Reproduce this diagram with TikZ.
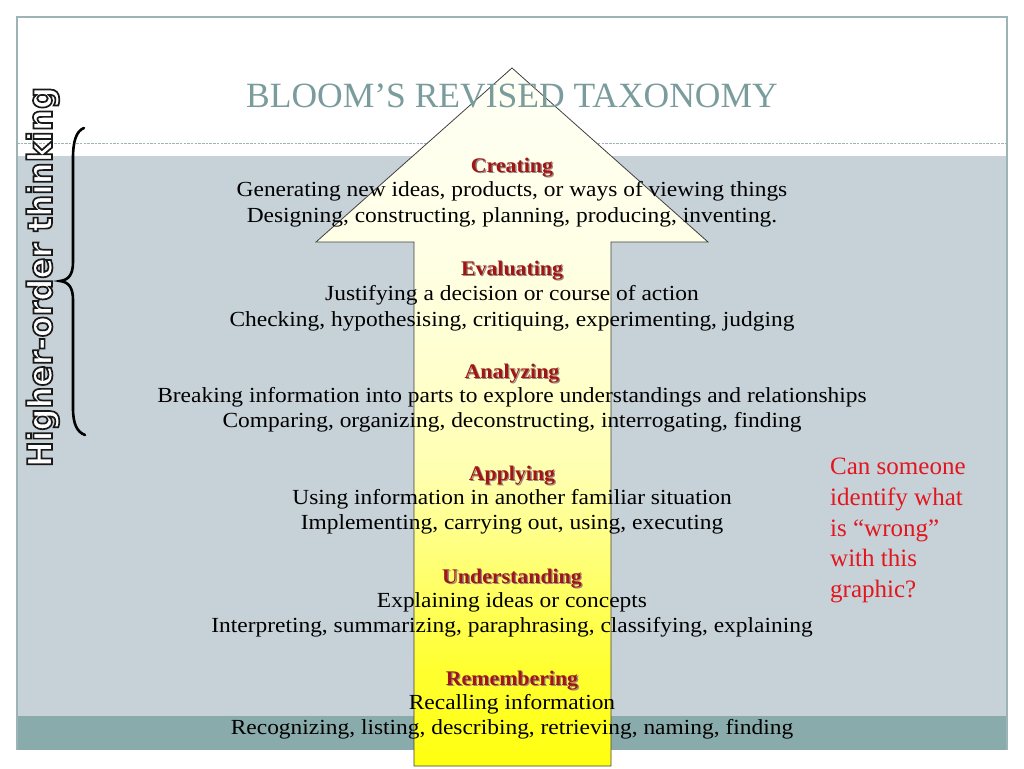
\documentclass[tikz,border=0pt]{standalone}
\usepackage{fontspec}
\setmainfont{Liberation Serif}
\newfontfamily\bodyfont[FakeStretch=1.09]{Liberation Serif}
\newfontfamily\headfont[FakeStretch=1.05]{Liberation Serif}
\newfontfamily\vfont[FakeStretch=0.91]{DejaVu Sans}
\definecolor{bandc}{HTML}{C6D1D8}
\definecolor{tealc}{HTML}{8AABAB}
\definecolor{framec}{HTML}{9EB4B4}
\definecolor{titlec}{HTML}{7A9C9C}
\definecolor{hred}{HTML}{A01616}
\definecolor{hshadow}{HTML}{9A8A80}
\definecolor{qred}{HTML}{E3161E}
\definecolor{ay0}{HTML}{FFFF10}
\definecolor{ay1}{HTML}{FFFF30}
\definecolor{ay2}{HTML}{FFFF70}
\definecolor{ay3}{HTML}{FFFFB0}
\definecolor{ay4}{HTML}{FFFFCC}
\definecolor{ay5}{HTML}{FFFFE4}
\definecolor{ay6}{HTML}{FFFFF6}
\pgfdeclareverticalshading{arrowshade}{100bp}{color(0bp)=(ay0); color(25bp)=(ay0); color(32bp)=(ay1); color(39bp)=(ay2); color(46bp)=(ay3); color(53bp)=(ay4); color(61bp)=(ay5); color(75bp)=(ay6); color(100bp)=(ay6)}
\newcommand\outltext[1]{{\color{white}\special{pdf:literal direct 2 Tr 1.7 w 0.1 0.1 0.1 RG}#1\special{pdf:literal direct 0 Tr}}}
\newcommand\hd[3]{\node[head, text=hshadow] (#1s) at (513.3,#2+1.3) {#3};\node[head] (#1) at (512,#2) {#3};}
\begin{document}
\begin{tikzpicture}[x=1pt,y=-1pt,
  body/.style={font=\bodyfont\fontsize{21.5}{24}\selectfont, anchor=base, inner sep=0pt, text=black},
  head/.style={font=\headfont\bfseries\fontsize{20.8}{22}\selectfont, anchor=base, inner sep=0pt, text=hred}]
\useasboundingbox (0,0) rectangle (1024,768);
\fill[white] (0,0) rectangle (1024,768);
\fill[bandc] (17,156) rectangle (1007,716);
\fill[tealc] (17,716) rectangle (1007,750);
\draw[framec, line width=1.2] (17,750) -- (17,17) -- (1007,17) -- (1007,750);
\draw[framec, line width=0.9, dash pattern=on 2.5pt off 1.2pt] (17,143) -- (1007,143);
% arrow
\shadedraw[shading=arrowshade, draw=black!75, line width=0.8]
  (512,68) -- (708,242) -- (611,242) -- (611,766) -- (414,766) -- (414,242) -- (316,242) -- cycle;
% title
\node[font=\fontsize{35.5}{40}\selectfont, text=titlec, anchor=base, inner sep=0pt] (title) at (512,107) {BLOOM’S REVISED TAXONOMY};
% brace
\draw[line width=2.6, line cap=round] (84,128) .. controls (76,131) and (73,142) .. (73,158) -- (73,262)
  .. controls (73,274) and (69,280) .. (60,281) .. controls (69,282) and (73,288) .. (73,300) -- (73,408)
  .. controls (73,424) and (77,432) .. (85,435);
% vertical label
\node[rotate=90, anchor=base, inner sep=0pt, font=\vfont\bfseries\fontsize{34}{34}\selectfont] (hot) at (52,277) {\outltext{Higher-order thinking}};
% levels
\hd{cre}{172}{Creating}
\node[body] (gen) at (512,196) {Generating new ideas, products, or ways of viewing things};
\node[body] (des) at (512,222) {Designing, constructing, planning, producing, inventing.};
\hd{eva}{275}{Evaluating}
\node[body] (jus) at (512,300) {Justifying a decision or course of action};
\node[body] (chk) at (512,326) {Checking, hypothesising, critiquing, experimenting, judging};
\hd{ana}{378}{Analyzing}
\node[body] (brk) at (512,402) {Breaking information into parts to explore understandings and relationships};
\node[body] (cmp) at (512,427) {Comparing, organizing, deconstructing, interrogating, finding};
\hd{app}{480}{Applying}
\node[body] (use) at (512,504) {Using information in another familiar situation};
\node[body] (imp) at (512,529) {Implementing, carrying out, using, executing};
\hd{und}{583}{Understanding}
\node[body] (exp) at (512,607) {Explaining ideas or concepts};
\node[body] (int) at (512,632) {Interpreting, summarizing, paraphrasing, classifying, explaining};
\hd{rem}{685}{Remembering}
\node[body] (rec) at (512,709) {Recalling information};
\node[body] (rcg) at (512,734) {Recognizing, listing, describing, retrieving, naming, finding};
% question
\node[anchor=north west, inner sep=0pt, align=left, text=qred, font=\fontsize{25}{30.7}\selectfont] (q) at (830,458)
  {Can someone\\identify what\\is “wrong”\\with this\\graphic?};
\end{tikzpicture}
\end{document}
